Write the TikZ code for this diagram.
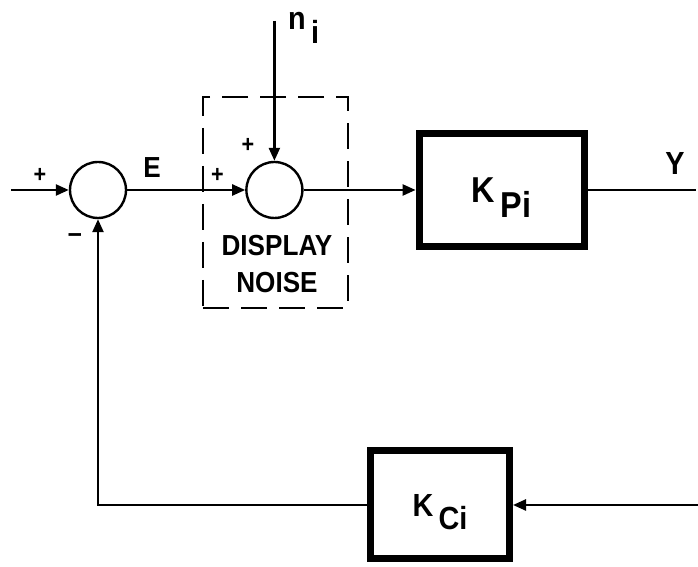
\documentclass[tikz,border=0pt]{standalone}
\usepackage{fontspec}
\setmainfont{Liberation Sans}[FakeStretch=0.9]
\usepackage{tikz}
\usetikzlibrary{arrows.meta, positioning}
\newcommand{\subl}[1]{\,\raisebox{-0.8ex}{#1}}

\begin{document}
\begin{tikzpicture}[font=\bfseries\fontsize{14.5}{18.5}\selectfont, node distance=60pt,
   line width=1.2pt, >={Triangle[length=6.5pt,width=5.5pt]},
   sumj/.style={draw, circle, minimum size=28pt, inner sep=0pt},
   gain/.style={draw, line width=3.5pt, inner sep=0pt, text depth=0pt,
                font=\bfseries\fontsize{18}{18}\selectfont},
   noisebox/.style={draw, line width=1.4pt, dash pattern=on 13pt off 6pt,
                    minimum width=72.5pt, minimum height=105.5pt},
   lbl/.style={inner sep=0pt},
   sgn/.style={inner sep=0pt, font=\bfseries\fontsize{12}{12}\selectfont}]
  \useasboundingbox (0,0) rectangle (349pt,283.5pt);
  % summing junctions
  \node[sumj] (s1) at (49pt,188.5pt) {};
  \node[sumj, right=59pt of s1] (s2) {};
  % display noise box
  \node[noisebox] (dn) at (137.75pt,182.25pt) {};
  \node[lbl, align=center] (dnlbl) at (138.5pt,151.25pt) {DISPLAY\\NOISE};
  % gains
  \node[gain, right=56pt of s2, minimum width=82.5pt, minimum height=56.5pt] (KPi) {K\subl{Pi}};
  \node[gain, minimum width=69.5pt, minimum height=54pt, font=\bfseries\fontsize{16}{16}\selectfont]
       (KCi) at (220pt,31pt) {K\subl{Ci}};
  % free ends
  \coordinate (in) at (5.5pt,188.5pt);
  \coordinate[above=70pt of s2] (ni);
  \coordinate[right=54pt of KPi] (yout);
  \coordinate[right=92.5pt of KCi] (fb);
  % forward path
  \draw[->] (in) -- (s1.west);
  \draw[->] (s1.east) -- (s2.west);
  \draw[->] (ni) -- (s2.north);
  \draw[->] (s2.east) -- (KPi.west);
  \draw (KPi.east) -- (yout);
  % feedback path
  \draw[->] (fb) -- (KCi.east);
  \draw[->] (KCi.west) -| (s1.south);
  % labels
  \node[lbl] (E) at (76pt,199.5pt) {E};
  \node[lbl, font=\bfseries\fontsize{16}{16}\selectfont] (Y) at (337.5pt,202pt) {Y};
  \node[lbl, anchor=base west, font=\bfseries\fontsize{16}{16}\selectfont] (nilbl) at (143.5pt,268.5pt) {n\subl{i}};
  \node[sgn] (p1) at (20pt,196pt) {+};
  \node[sgn, font=\bfseries\fontsize{14}{14}\selectfont] (m1) at (37.5pt,164.5pt) {--};
  \node[sgn] (p2) at (108.75pt,196pt) {+};
  \node[sgn] (p3) at (124pt,211pt) {+};
\end{tikzpicture}
\end{document}
